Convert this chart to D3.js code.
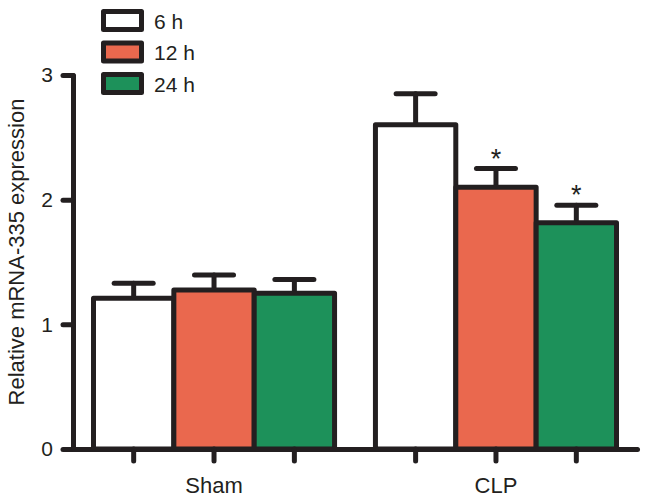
<!DOCTYPE html>
<html>
<head>
<meta charset="utf-8">
<script src="https://cdn.jsdelivr.net/npm/d3@7"></script>
<style>
  html, body { margin: 0; padding: 0; background: #fff; }
  svg { display: block; font-family: "Liberation Sans", Arial, Helvetica, sans-serif; }
</style>
</head>
<body>
<svg id="chart" width="646" height="501"></svg>
<script>
// ---- data ----
const groups = ["Sham", "CLP"];
const timepoints = ["6 h", "12 h", "24 h"];
const colors = ["#ffffff", "#EA684E", "#1D915A"];
const meanSham = [1.21, 1.275, 1.25];
const errSham = [0.12, 0.12, 0.11];
const meanCLP = [2.60, 2.10, 1.815];
const errCLP = [0.25, 0.15, 0.14];
const sigCLP = ["", "*", "*"];
const yTicks = [0, 1, 2, 3];
const yLabel = "Relative mRNA-335 expression";

const ink = "#231F20";
const svg = d3.select("#chart");

const y = d3.scaleLinear().domain([0, 3]).range([449, 75]);
const x0 = d3.scaleBand().domain(groups).range([73, 637]).paddingInner(0.145).paddingOuter(0.0727);
const x1 = d3.scaleBand().domain(timepoints).range([0, x0.bandwidth()]).padding(0);

const rows = [];
groups.forEach((g, gi) => {
  const means = gi === 0 ? meanSham : meanCLP;
  const errs = gi === 0 ? errSham : errCLP;
  timepoints.forEach((t, ti) => {
    rows.push({ g, t, ti, mean: means[ti], err: errs[ti], sig: gi === 1 ? sigCLP[ti] : "" });
  });
});

const bx = d => x0(d.g) + x1(d.t);
const cx = d => bx(d) + x1.bandwidth() / 2;

// error bars (drawn first so bar outline covers base)
const eb = svg.append("g").attr("stroke", ink).attr("stroke-width", 5).attr("stroke-linecap", "round");
eb.selectAll("line.v").data(rows).join("line").attr("class", "v")
  .attr("x1", cx).attr("x2", cx).attr("y1", d => y(d.mean)).attr("y2", d => y(d.mean + d.err));
eb.selectAll("line.c").data(rows).join("line").attr("class", "c")
  .attr("x1", d => cx(d) - 19.5).attr("x2", d => cx(d) + 19.5)
  .attr("y1", d => y(d.mean + d.err)).attr("y2", d => y(d.mean + d.err));

// bars
svg.append("g").selectAll("rect").data(rows).join("rect")
  .attr("x", bx).attr("width", x1.bandwidth())
  .attr("y", d => y(d.mean)).attr("height", d => y(0) - y(d.mean))
  .attr("fill", d => colors[d.ti]).attr("stroke", ink).attr("stroke-width", 5)
  .attr("stroke-linejoin", "round");

// significance stars
svg.append("g").selectAll("text").data(rows.filter(d => d.sig)).join("text")
  .attr("x", cx).attr("y", d => y(d.mean + d.err) - 1)
  .attr("text-anchor", "middle").attr("font-size", 27).attr("fill", ink)
  .text(d => d.sig);

// y axis
const yAxis = svg.append("g").attr("transform", "translate(73,0)")
  .call(d3.axisLeft(y).tickValues(yTicks).tickFormat(d3.format("d")).tickSize(10).tickSizeOuter(0).tickPadding(10));
yAxis.select(".domain").attr("stroke", ink).attr("stroke-width", 5).attr("stroke-linecap", "round");
yAxis.selectAll(".tick line").attr("stroke", ink).attr("stroke-width", 5).attr("stroke-linecap", "round");
yAxis.selectAll(".tick text").attr("font-size", 21).attr("fill", ink).attr("font-family", null);

// x axis
const xAxis = svg.append("g").attr("transform", "translate(0,449)")
  .call(d3.axisBottom(x0).tickSize(0).tickSizeOuter(0).tickPadding(28));
xAxis.select(".domain").attr("stroke", ink).attr("stroke-width", 5).attr("stroke-linecap", "round");
xAxis.selectAll(".tick text").attr("font-size", 22).attr("fill", ink).attr("font-family", null);
xAxis.selectAll("line.sub").data(rows).join("line").attr("class", "sub")
  .attr("x1", cx).attr("x2", cx).attr("y1", 0).attr("y2", 12)
  .attr("stroke", ink).attr("stroke-width", 5).attr("stroke-linecap", "round");

// y label
svg.append("text").attr("transform", "translate(24,252) rotate(-90)")
  .attr("text-anchor", "middle").attr("font-size", 22).attr("fill", ink).text(yLabel);

// legend
const lg = svg.append("g").selectAll("g").data(timepoints).join("g")
  .attr("transform", (d, i) => `translate(0,${i * 31.5})`);
lg.append("rect").attr("x", 103.5).attr("y", 11.5).attr("width", 38).attr("height", 18)
  .attr("fill", (d, i) => colors[i]).attr("stroke", ink).attr("stroke-width", 5).attr("stroke-linejoin", "round");
lg.append("text").attr("x", 154).attr("y", 28.5).attr("font-size", 21).attr("fill", ink).text(d => d);
</script>
</body>
</html>
